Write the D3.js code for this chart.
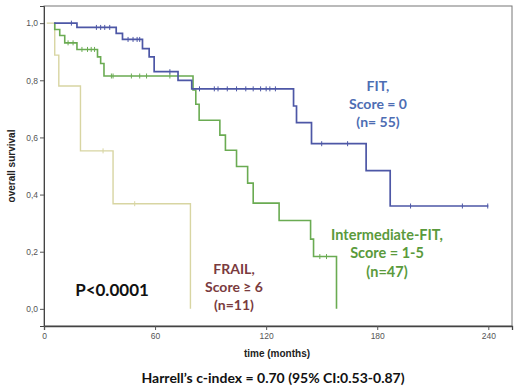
<!DOCTYPE html>
<html>
<head>
<meta charset="utf-8">
<script src="https://cdn.jsdelivr.net/npm/d3@7"></script>
<style>
  body { margin: 0; background: #fff; }
  .tick text { font-family: "Liberation Sans", Arial, sans-serif; font-size: 8.5px; fill: #555; }
  .note { font-family: Lato, "Open Sans", sans-serif; font-weight: 700; }
</style>
</head>
<body>
<div class="chart"></div>
<script>
// Kaplan-Meier steps: time (months) at which survival changes, and the level after it
const fitTimes = [5.5, 17.8, 39, 42.4, 53.2, 56.8, 59.5, 72.4, 79.8, 134.8, 136.4, 144.5, 174, 187];
const fitSurv = [1.0, 0.985, 0.964, 0.943, 0.911, 0.882, 0.830, 0.800, 0.770, 0.710, 0.652, 0.578, 0.484, 0.360];
const fitEnd = 240;
const fitCensor = [14.8, 28.3, 30.6, 32.8, 35.5, 45.4, 48.1, 50.3, 51.7, 68, 84, 92, 94, 99, 104,
  109, 113, 117, 120, 122, 125, 150, 164, 198, 226, 239.7];

const intTimes = [5.5, 5.8, 8.5, 11.2, 17.8, 28.9, 30.6, 32.4, 80.5, 82, 83.8, 95, 98, 104, 110, 113, 127, 144, 145.6, 158];
const intSurv = [1.0, 0.978, 0.957, 0.931, 0.908, 0.882, 0.859, 0.815, 0.766, 0.716, 0.660, 0.608, 0.555, 0.498, 0.440, 0.370, 0.309, 0.244, 0.183, 0];
const intEnd = 158;
const intCensor = [13, 15.7, 20.5, 23.5, 25.5, 27.3, 36.4, 37.3, 47.2, 51.7, 55.4, 68, 149, 152.6];

const frailTimes = [1.5, 5.8, 8, 19.7, 37.3, 79.1];
const frailSurv = [1.0, 0.888, 0.780, 0.553, 0.368, 0];
const frailEnd = 79.1;
const frailCensor = [31.9, 49];

const xTicks = [0, 60, 120, 180, 240];
const yTicks = [0, 0.2, 0.4, 0.6, 0.8, 1.0];

const W = 520, H = 391;
const svg = d3.select('.chart').append('svg')
  .attr('width', W).attr('height', H);

const x = d3.scaleLinear().domain([0, 252.8]).range([44, 512]);
const y = d3.scaleLinear().domain([-0.06, 1.06]).range([326, 6]);

// frame
svg.append('rect')
  .attr('x', 44).attr('y', 6).attr('width', 468).attr('height', 320)
  .attr('fill', 'none').attr('stroke', '#777').attr('stroke-width', 1);

const fmt = d => d3.format('.1f')(d).replace('.', ',');

svg.append('g')
  .attr('transform', 'translate(44,0)')
  .call(d3.axisLeft(y).tickValues(yTicks).tickFormat(fmt).tickSize(4).tickPadding(2))
  .call(g => g.select('.domain').attr('stroke', '#444'))
  .call(g => g.selectAll('.tick line').attr('stroke', '#555'));

svg.append('g')
  .attr('transform', 'translate(0,326)')
  .call(d3.axisBottom(x).tickValues(xTicks).tickSize(4).tickPadding(3))
  .call(g => g.select('.domain').attr('stroke', '#444').attr('stroke-width', 1.3))
  .call(g => g.selectAll('.tick line').attr('stroke', '#555'));

// KM curves
function stepPts(times, surv, end) {
  const pts = times.map((t, i) => [t, surv[i]]);
  if (end > times[times.length - 1]) pts.push([end, surv[surv.length - 1]]);
  return pts;
}
function survAt(times, surv, t) {
  let s = surv[0];
  times.forEach((tt, i) => { if (tt <= t) s = surv[i]; });
  return s;
}
const line = d3.line().x(d => x(d[0])).y(d => y(d[1])).curve(d3.curveStepAfter);

const groups = [
  { times: frailTimes, surv: frailSurv, end: frailEnd, cens: frailCensor, color: '#d8d5a2', w: 1.4 },
  { times: intTimes, surv: intSurv, end: intEnd, cens: intCensor, color: '#6aab52', w: 1.6 },
  { times: fitTimes, surv: fitSurv, end: fitEnd, cens: fitCensor, color: '#4d57a6', w: 1.7 },
];

groups.forEach(g => {
  svg.append('path')
    .datum(stepPts(g.times, g.surv, g.end))
    .attr('d', line)
    .attr('fill', 'none')
    .attr('stroke', g.color)
    .attr('stroke-width', g.w);
  svg.selectAll(null)
    .data(g.cens)
    .enter().append('line')
    .attr('x1', d => x(d)).attr('x2', d => x(d))
    .attr('y1', d => y(survAt(g.times, g.surv, d)) - 2.5)
    .attr('y2', d => y(survAt(g.times, g.surv, d)) + 2.5)
    .attr('stroke', g.color)
    .attr('stroke-width', 1);
});

// axis titles
svg.append('text')
  .attr('transform', 'translate(15,166) rotate(-90)')
  .attr('text-anchor', 'middle')
  .style('font-family', '"Liberation Sans", Arial, sans-serif')
  .style('font-weight', 700).style('font-size', '10px').attr('fill', '#222')
  .text('overall survival');

svg.append('text')
  .attr('x', 277).attr('y', 357)
  .attr('text-anchor', 'middle')
  .style('font-family', '"Liberation Sans", Arial, sans-serif')
  .style('font-weight', 700).style('font-size', '10px').attr('fill', '#222')
  .text('time (months)');

// annotations
function block(lines, cx, ys, color, size) {
  lines.forEach((t, i) => {
    svg.append('text').attr('class', 'note')
      .attr('x', cx).attr('y', ys[i])
      .attr('text-anchor', 'middle')
      .attr('fill', color)
      .style('font-size', size + 'px')
      .text(t);
  });
}
block(['FIT,', 'Score = 0', '(n= 55)'], 378, [91, 109, 127], '#4d6db3', 14);
block(['Intermediate-FIT,', 'Score = 1-5', '(n=47)'], 387, [240, 258, 277], '#5a9a3c', 14.5);
block(['FRAIL,', 'Score \u2265 6', '(n=11)'], 234, [274, 292, 310], '#7a3b3e', 14);
block(['P<0.0001'], 112, [296], '#111', 17);
block(['Harrell\u2019s c-index = 0.70 (95% CI:0.53-0.87)'], 273, [383], '#111', 14);
</script>
</body>
</html>
